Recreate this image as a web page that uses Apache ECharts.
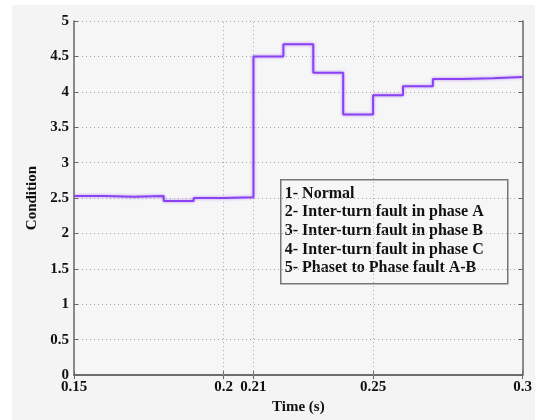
<!DOCTYPE html>
<html>
<head>
<meta charset="utf-8">
<script src="https://cdn.jsdelivr.net/npm/echarts@6/dist/echarts.min.js"></script>
<style>
    html, body { margin: 0; padding: 0; background: #ffffff; }
    #chart { width: 535px; height: 420px; }
</style>
</head>
<body>
<div id="chart"></div>
<script>
// start time of each step (s)
const timeStarts = [0.15, 0.16, 0.17, 0.18, 0.19, 0.20, 0.21, 0.22, 0.23, 0.24, 0.25, 0.26, 0.27, 0.28, 0.29]
// condition value held over each step
const conditionValues = [2.53, 2.52, 2.53, 2.46, 2.50, 2.51, 4.50, 4.67, 4.27, 3.68, 3.95, 4.08, 4.18, 4.19, 4.21]
const timeEnd = 0.30
// ticks on the time axis
const xTickValues = [0.15, 0.2, 0.21, 0.25, 0.3]
// vertical grid lines (inner ticks only)
const xGridValues = [0.2, 0.21, 0.25]
// text inside the box
const noteLines = [
    '1- Normal',
    '2- Inter-turn fault in phase A',
    '3- Inter-turn fault in phase B',
    '4- Inter-turn fault in phase C',
    '5- Phaset to Phase fault A-B'
]

const serif = '"Liberation Serif", "DejaVu Serif", serif'
const stepData = timeStarts.map((t, i) => [t, conditionValues[i]])
stepData.push([timeEnd, conditionValues[conditionValues.length - 1]])

const chartInstance = echarts.init(document.getElementById('chart'))

const gridStyle = { color: '#a8a8a8', type: [1, 3], width: 1 }
const frameLine = { show: true, lineStyle: { color: '#666', width: 1.5 } }
const labelFont = { fontFamily: serif, fontWeight: 'bold', fontSize: 15, color: '#111' }

const option = {
    animation: false,
    backgroundColor: '#ffffff',
    grid: { left: 74, right: 12, top: 21, bottom: 43, show: true, backgroundColor: '#f6f6f6', borderWidth: 0 },
    xAxis: [
        {
            type: 'value',
            min: 0.15,
            max: 0.3,
            name: 'Time (s)',
            nameLocation: 'middle',
            nameGap: 23,
            nameTextStyle: labelFont,
            axisLine: frameLine,
            axisTick: { show: true, inside: true, length: 4, customValues: xTickValues, lineStyle: { color: '#666' } },
            axisLabel: Object.assign({ customValues: xTickValues, margin: 5 }, labelFont),
            splitLine: { show: false }
        },
        {
            type: 'value',
            position: 'top',
            min: 0.15,
            max: 0.3,
            axisLine: frameLine,
            axisTick: { show: true, inside: true, length: 4, customValues: xTickValues, lineStyle: { color: '#666' } },
            axisLabel: { show: false },
            splitLine: { show: false }
        }
    ],
    yAxis: [
        {
            type: 'value',
            min: 0,
            max: 5,
            interval: 0.5,
            name: 'Condition',
            nameLocation: 'middle',
            nameGap: 22,
            nameTextStyle: labelFont,
            axisLine: frameLine,
            axisTick: { show: true, inside: true, length: 4, lineStyle: { color: '#666' } },
            axisLabel: Object.assign({ margin: 5 }, labelFont),
            splitLine: { show: true, lineStyle: gridStyle }
        },
        {
            type: 'value',
            position: 'right',
            min: 0,
            max: 5,
            interval: 0.5,
            axisLine: frameLine,
            axisTick: { show: true, inside: true, length: 4, lineStyle: { color: '#666' } },
            axisLabel: { show: false },
            splitLine: { show: false }
        }
    ],
    series: [
        {
            type: 'line',
            step: 'end',
            data: stepData,
            showSymbol: false,
            z: 5,
            lineStyle: {
                color: '#8a42f2',
                width: 2,
                shadowBlur: 3,
                shadowColor: 'rgba(140, 70, 240, 0.6)'
            },
            // dotted vertical grid at the inner time ticks
            markLine: {
                silent: true,
                symbol: 'none',
                z: 1,
                label: { show: false },
                lineStyle: gridStyle,
                data: xGridValues.map((v) => ({ xAxis: v }))
            }
        }
    ],
    graphic: [
        // outer figure background
        {
            type: 'rect',
            z: -10,
            shape: { x: 12, y: 5, width: 523, height: 415 },
            style: { fill: '#f4f4f4' }
        },
        // text box
        {
            type: 'group',
            left: 280,
            top: 179,
            z: 20,
            children: [
                {
                    type: 'rect',
                    shape: { x: 0, y: 0, width: 227, height: 104 },
                    style: { fill: '#f6f6f6', stroke: '#777', lineWidth: 1.5 }
                }
            ].concat(noteLines.map((line, i) => ({
                type: 'text',
                x: 4,
                y: 14 + i * 18.6,
                style: {
                    text: line,
                    fill: '#111',
                    font: 'bold 16px ' + serif,
                    verticalAlign: 'middle'
                }
            })))
        }
    ]
}
chartInstance.setOption(option)
</script>
</body>
</html>
